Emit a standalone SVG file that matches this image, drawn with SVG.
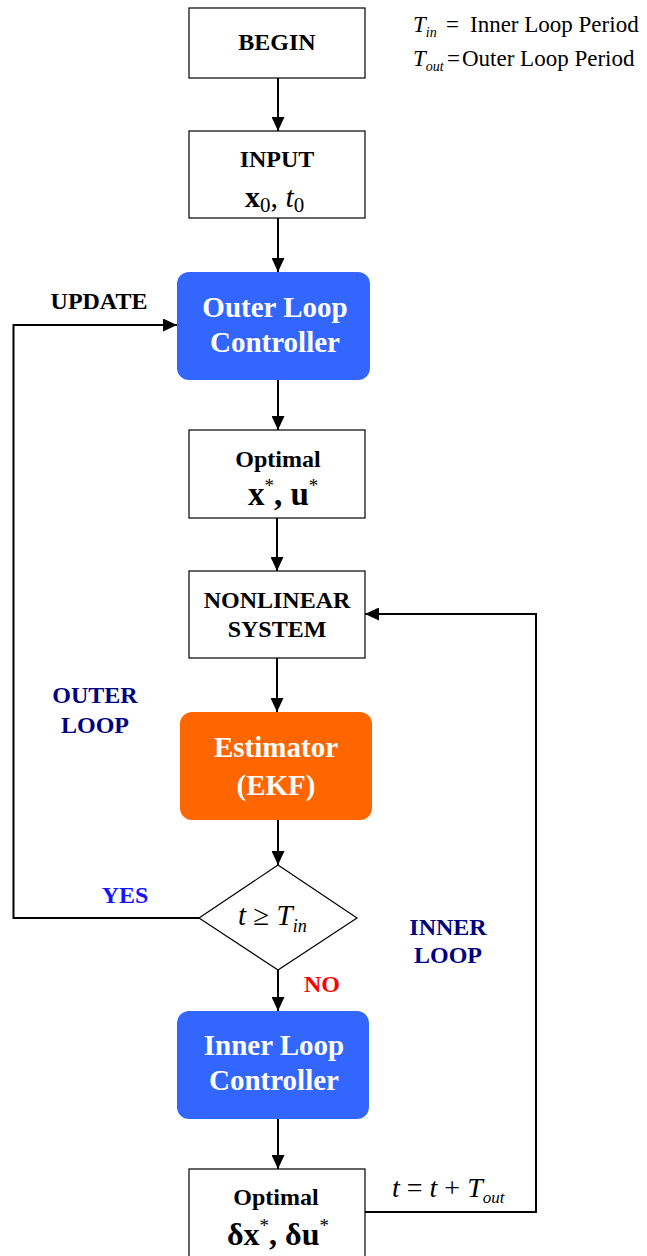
<svg xmlns="http://www.w3.org/2000/svg" width="647" height="1256" viewBox="0 0 647 1256">
  <style>
    .box { fill: #ffffff; stroke: #000000; stroke-width: 1.2; }
    .blue { fill: #3366FF; }
    .orange { fill: #FF6600; }
    .lbl { font-family: "Liberation Serif", "Times New Roman", serif; font-weight: bold; font-size: 24px; text-anchor: middle; fill: #000000; }
    .wlbl { font-family: "Liberation Serif", "Times New Roman", serif; font-weight: bold; font-size: 29px; text-anchor: middle; fill: #ffffff; }
    .math { font-family: "Liberation Serif", "Times New Roman", serif; fill: #000000; }
    .navy { fill: #000080; }
    .conn { fill: none; stroke: #000000; stroke-width: 2; }
  </style>
  <defs>
    <marker id="arrow" viewBox="0 0 14 13" refX="14" refY="6.5" markerWidth="14" markerHeight="13" markerUnits="userSpaceOnUse" orient="auto">
      <path d="M0,0 L14,6.5 L0,13 Z" fill="#000000"/>
    </marker>
  </defs>

  <rect width="647" height="1256" fill="#ffffff"/>

  <!-- legend -->
  <g id="legend" class="math" font-size="23">
    <text x="413" y="32"><tspan font-style="italic">T</tspan><tspan font-style="italic" font-size="14" dy="5">in</tspan><tspan dy="-5" x="446">=</tspan><tspan x="470">Inner Loop Period</tspan></text>
    <text x="413" y="66"><tspan font-style="italic">T</tspan><tspan font-style="italic" font-size="14" dy="5">out</tspan><tspan dy="-5" x="447">=</tspan><tspan x="462">Outer Loop Period</tspan></text>
  </g>

  <!-- connectors -->
  <g id="connectors">
    <line class="conn" x1="278" y1="78" x2="278" y2="131" marker-end="url(#arrow)"/>
    <line class="conn" x1="278" y1="218" x2="278" y2="272" marker-end="url(#arrow)"/>
    <line class="conn" x1="278" y1="380" x2="278" y2="430" marker-end="url(#arrow)"/>
    <line class="conn" x1="277" y1="518" x2="277" y2="571" marker-end="url(#arrow)"/>
    <line class="conn" x1="277" y1="658" x2="277" y2="712" marker-end="url(#arrow)"/>
    <line class="conn" x1="278" y1="820" x2="278" y2="865" marker-end="url(#arrow)"/>
    <line class="conn" x1="278" y1="970" x2="278" y2="1011" marker-end="url(#arrow)"/>
    <line class="conn" x1="278" y1="1119" x2="278" y2="1169" marker-end="url(#arrow)"/>
    <!-- inner loop return -->
    <polyline class="conn" points="365,1212 536,1212 536,614 365,614" marker-end="url(#arrow)"/>
    <!-- outer loop return -->
    <polyline class="conn" points="199,918 13.5,918 13.5,325 177,325" marker-end="url(#arrow)"/>
  </g>

  <!-- loop labels -->
  <g id="labels">
    <text class="lbl" x="99" y="309">UPDATE</text>
    <text class="lbl navy" x="95" y="703">OUTER</text>
    <text class="lbl navy" x="95" y="733">LOOP</text>
    <text class="lbl" x="125" y="903" style="fill:#1515FF">YES</text>
    <text class="lbl" x="322" y="992" style="fill:#FF0000">NO</text>
    <text class="lbl navy" x="448" y="935">INNER</text>
    <text class="lbl navy" x="448" y="963">LOOP</text>
    <text class="math" x="392" y="1197" font-size="28"><tspan font-style="italic">t</tspan> = <tspan font-style="italic">t</tspan> + <tspan font-style="italic">T</tspan><tspan font-style="italic" font-size="17" dy="6">out</tspan></text>
  </g>

  <g id="begin">
    <rect class="box" x="189" y="8" width="176" height="70"/>
    <text class="lbl" x="277" y="50">BEGIN</text>
  </g>

  <g id="input">
    <rect class="box" x="189" y="131" width="176" height="87"/>
    <text class="lbl" x="277" y="167">INPUT</text>
    <text class="math" x="245" y="207" font-size="30"><tspan font-weight="bold">x</tspan><tspan font-size="21" dy="5">0</tspan><tspan dy="-5">, </tspan><tspan font-style="italic">t</tspan><tspan font-size="21" dy="5">0</tspan></text>
  </g>

  <g id="outer-controller">
    <rect class="blue" x="177" y="272" width="193" height="108" rx="12"/>
    <text class="wlbl" x="275" y="317">Outer Loop</text>
    <text class="wlbl" x="275" y="352">Controller</text>
  </g>

  <g id="optimal-outer">
    <rect class="box" x="189" y="430" width="176" height="88"/>
    <text class="lbl" x="278" y="467">Optimal</text>
    <text class="math" x="248" y="505" font-size="33" font-weight="bold">x<tspan font-size="19" font-weight="normal" dy="-13">*</tspan><tspan dy="13">, u</tspan><tspan font-size="19" font-weight="normal" dy="-13">*</tspan></text>
  </g>

  <g id="nonlinear-system">
    <rect class="box" x="189" y="571" width="176" height="87"/>
    <text class="lbl" x="277" y="608">NONLINEAR</text>
    <text class="lbl" x="277" y="637">SYSTEM</text>
  </g>

  <g id="estimator">
    <rect class="orange" x="180" y="712" width="192" height="108" rx="12"/>
    <text class="wlbl" x="276" y="757">Estimator</text>
    <text class="wlbl" x="276" y="795">(EKF)</text>
  </g>

  <g id="decision">
    <polygon points="278,865 357,918 278,970 199,918" fill="#ffffff" stroke="#000000" stroke-width="1.2"/>
    <text class="math" x="238" y="925" font-size="29"><tspan font-style="italic">t</tspan> ≥ <tspan font-style="italic">T</tspan><tspan font-style="italic" font-size="18" dy="7">in</tspan></text>
  </g>

  <g id="inner-controller">
    <rect class="blue" x="177" y="1011" width="192" height="108" rx="12"/>
    <text class="wlbl" x="274" y="1055">Inner Loop</text>
    <text class="wlbl" x="274" y="1090">Controller</text>
  </g>

  <g id="optimal-inner">
    <rect class="box" x="189" y="1169" width="176" height="100"/>
    <text class="lbl" x="276" y="1205">Optimal</text>
    <text class="math" x="227" y="1245" font-size="32" font-weight="bold">δx<tspan font-size="19" font-weight="normal" dy="-13">*</tspan><tspan dy="13">, δu</tspan><tspan font-size="19" font-weight="normal" dy="-13">*</tspan></text>
  </g>
</svg>
